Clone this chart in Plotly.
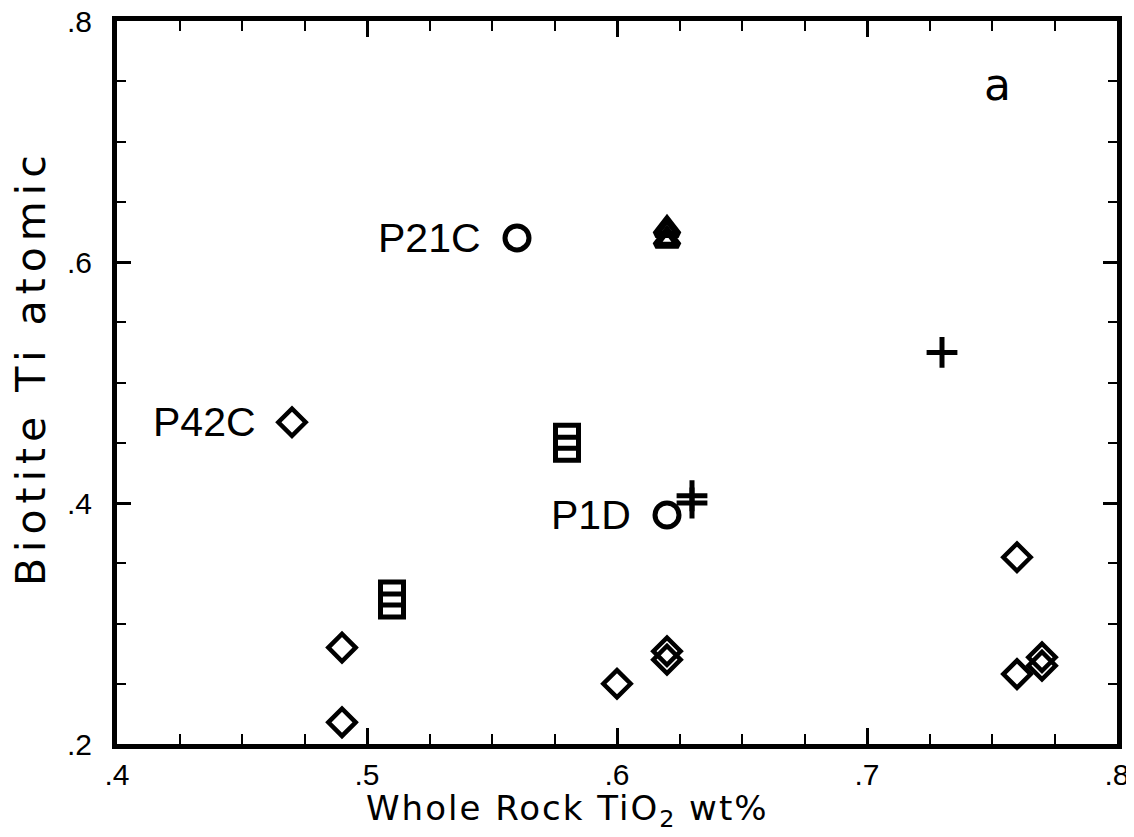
import plotly.graph_objects as go

# ---- data ----
circle_x = [0.56, 0.62]
circle_y = [0.62, 0.39]

triangle_x = [0.62, 0.62]
triangle_y = [0.618, 0.627]

plus_x = [0.73, 0.63, 0.63]
plus_y = [0.525, 0.400, 0.406]

square_x = [0.58, 0.58, 0.51, 0.51]
square_y = [0.445, 0.455, 0.315, 0.325]

diamond_x = [0.47, 0.49, 0.49, 0.60, 0.62, 0.62, 0.76, 0.76, 0.77, 0.77]
diamond_y = [0.467, 0.28, 0.218, 0.25, 0.270, 0.277, 0.355, 0.258, 0.265, 0.272]

label_text = ["P21C", "P1D", "P42C"]
label_x = [0.56, 0.62, 0.47]
label_y = [0.62, 0.39, 0.467]

x_ticks = [0.4, 0.5, 0.6, 0.7, 0.8]
x_ticktext = [".4", ".5", ".6", ".7", ".8"]
y_ticks = [0.2, 0.4, 0.6, 0.8]
y_ticktext = [".2", ".4", ".6", ".8"]

FONT = "Liberation Sans"
TITLE_FONT = "DejaVu Sans"

fig = go.Figure()

def add(xs, ys, symbol, size, lw=4):
    fig.add_trace(go.Scatter(
        x=xs, y=ys, mode="markers",
        marker=dict(symbol=symbol, size=size, color="black",
                    line=dict(color="black", width=lw)),
        showlegend=False, hoverinfo="x+y"))

add(circle_x, circle_y, "circle-open", 24, 5)
add(triangle_x, triangle_y, "triangle-up-open", 20, 7)
add(plus_x, plus_y, "cross-thin-open", 22, 5)
add(square_x, square_y, "square-open", 23, 5)
add(diamond_x, diamond_y, "diamond-open", 21, 4.5)

for t, x, y in zip(label_text, label_x, label_y):
    fig.add_annotation(x=x, y=y, text=t, showarrow=False, xanchor="right",
                       yanchor="middle", xshift=-34,
                       font=dict(family=FONT, size=41, color="black"))

fig.add_annotation(x=0.752, y=0.747, text="a", showarrow=False,
                   font=dict(family=TITLE_FONT, size=44, color="black"))

# axis titles
fig.add_annotation(xref="paper", yref="paper", x=0.45, y=-0.126,
                   text='<span style="letter-spacing:2px">Whole Rock TiO<sub>2</sub> wt%</span>',
                   showarrow=False, xanchor="center", yanchor="bottom",
                   font=dict(family=TITLE_FONT, size=34, color="black"))
fig.add_annotation(xref="paper", yref="paper", x=-0.086, y=0.52,
                   text='<span style="letter-spacing:6px">Biotite Ti atomic</span>',
                   showarrow=False, textangle=-90,
                   xanchor="center", yanchor="middle",
                   font=dict(family=TITLE_FONT, size=41, color="black"))

axis_common = dict(showline=True, linecolor="black", linewidth=5,
                   mirror="ticks", ticks="inside", tickcolor="black",
                   tickwidth=2.5, showgrid=False, zeroline=False,
                   ticklabeloverflow="allow",
                   tickfont=dict(family=FONT, size=30, color="black"))

fig.update_xaxes(range=[0.4, 0.8], tickvals=x_ticks, ticktext=x_ticktext,
                 ticklen=16, ticklabelstandoff=0,
                 minor=dict(dtick=0.025, tick0=0.4, ticks="inside", ticklen=10,
                            tickwidth=2, tickcolor="black"),
                 **axis_common)
fig.update_yaxes(range=[0.2, 0.8], tickvals=y_ticks, ticktext=y_ticktext,
                 ticklen=14, ticklabelstandoff=14,
                 minor=dict(dtick=0.05, tick0=0.2, ticks="inside", ticklen=9,
                            tickwidth=2, tickcolor="black"),
                 **axis_common)

fig.update_layout(width=1126, height=829,
                  margin=dict(l=109, r=17, t=13, b=93, autoexpand=False),
                  plot_bgcolor="white", paper_bgcolor="white")

fig.write_html("out.html")
